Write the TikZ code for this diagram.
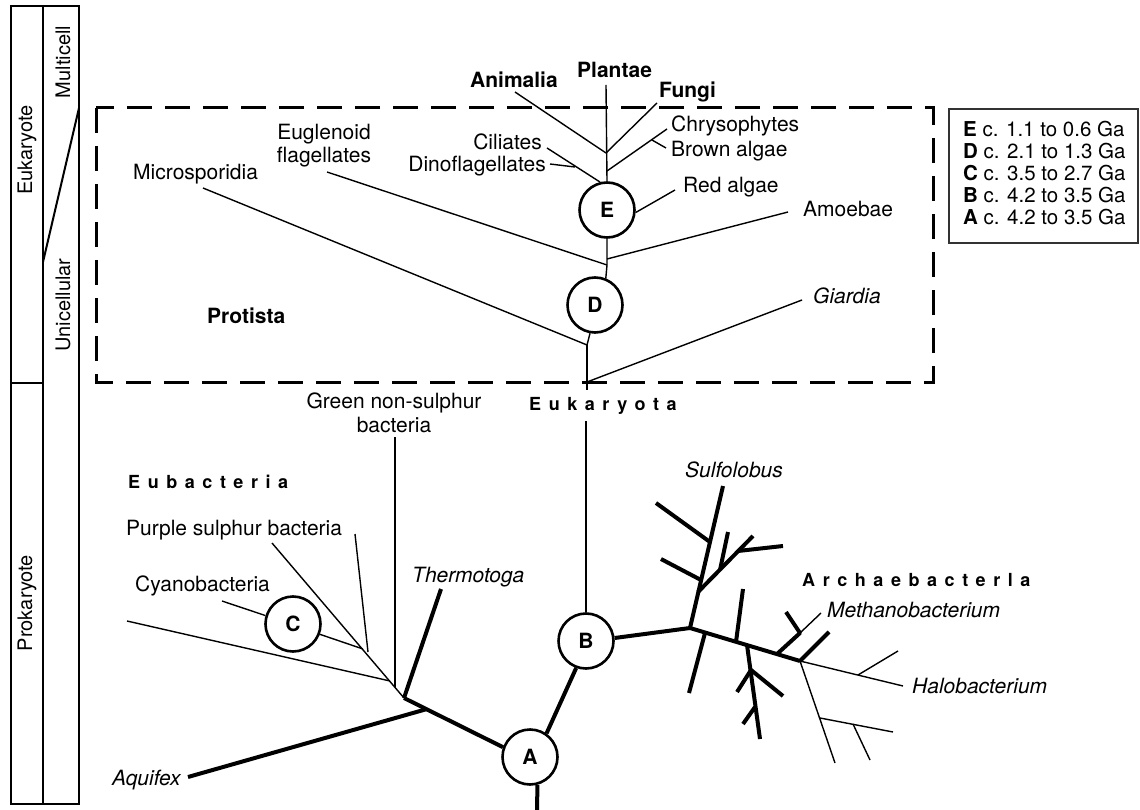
\documentclass[tikz,border=0pt]{standalone}
\usepackage{fontspec}
\setmainfont{TeX Gyre Heros}
\newfontfamily\spacedfont[LetterSpace=42]{TeX Gyre Heros}
\usetikzlibrary{calc}
\begin{document}
\begin{tikzpicture}[x=1pt,y=-1pt,
  lbl/.style={inner sep=0pt, anchor=base west, font=\fontsize{21}{24}\selectfont},
  lblr/.style={lbl, anchor=base east},
  blbl/.style={lbl, font=\fontsize{21}{24}\selectfont\bfseries},
  ilbl/.style={lbl, font=\fontsize{21}{24}\selectfont\itshape},
  ttl/.style={inner sep=0pt, anchor=base west, font=\spacedfont\bfseries\fontsize{18}{20}\selectfont},
  leg/.style={inner sep=0pt, anchor=base west, font=\fontsize{20.5}{22}\selectfont},
  col/.style={inner sep=0pt, rotate=90, font=\fontsize{20}{22}\selectfont},
  circ/.style={circle, draw, line width=2.6pt, minimum size=55pt, inner sep=0pt, fill=white, font=\fontsize{21}{24}\selectfont\bfseries},
  thinb/.style={line width=1.4pt, line join=round},
  thickb/.style={line width=4pt, line join=round},
  frame/.style={line width=2pt},
  dashbox/.style={line width=3pt, dash pattern=on 25pt off 13pt}
]
\useasboundingbox (0,0) rectangle (1140,810);

% ---------- left time column ----------
\draw[frame] (11,6) rectangle (79,804);
\draw[frame] (43,6) -- (43,804);
\draw[frame] (11,383) -- (43,383);
\draw[frame] (43,262) -- (79,108);
\node[col] (eukcol) at (27,150) {Eukaryote};
\node[col] (procol) at (27,603) {Prokaryote};
\node[col] (unicol) at (63,305) {Unicellular};
\node[col] (mulcol) at (63,62) {Multicell};

% ---------- dashed Protista box ----------
\draw[dashbox] (96,108) rectangle (933,382);

% ---------- legend ----------
\draw[line width=1.3pt, black!80] (949,109) rectangle (1138,243);
\node[leg] (legE) at (963,137) {\textbf{E} c. 1.1 to 0.6 Ga};
\node[leg] (legD) at (963,159) {\textbf{D} c. 2.1 to 1.3 Ga};
\node[leg] (legC) at (963,181) {\textbf{C} c. 3.5 to 2.7 Ga};
\node[leg] (legB) at (963,203) {\textbf{B} c. 4.2 to 3.5 Ga};
\node[leg] (legA) at (963,225) {\textbf{A} c. 4.2 to 3.5 Ga};

% ---------- circles ----------
\node[circ] (E) at (607,210) {E};
\node[circ] (D) at (595,305) {D};
\node[circ] (C) at (293,624) {C};
\node[circ] (B) at (586,641) {B};
\node[circ] (A) at (530,757) {A};

% ---------- eukaryote labels ----------
\node[blbl] (animalia) at (470,88) {Animalia};
\node[blbl] (plantae) at (577,78) {Plantae};
\node[blbl] (fungi) at (659,98) {Fungi};
\node[lbl] (chryso) at (671,132) {Chrysophytes};
\node[lbl] (brown) at (671,157) {Brown algae};
\node[lbl] (redalg) at (683,193) {Red algae};
\node[lbl] (amoeb) at (803,217) {Amoebae};
\node[ilbl] (giard) at (813,303) {Giardia};
\node[lblr] (cilia) at (542,150) {Ciliates};
\node[lblr] (dino) at (546,172) {Dinoflagellates};
\node[inner sep=0pt, anchor=base, align=center, font=\fontsize{21}{23}\selectfont] (eugl) at (324,163) {Euglenoid\\flagellates};
\node[lbl] (micro) at (133,180) {Microsporidia};
\node[blbl] (protista) at (207,323) {Protista};
\node[ttl] (eukaryota) at (529,410) {Eukaryota};

% ---------- eukaryote tree ----------
\coordinate (plTop) at (606,85);
\coordinate (jAn) at (606,153);
\coordinate (jCh) at (607,171);
\coordinate (anEnd) at (515,92);
\coordinate (fuEnd) at (657,103);
\coordinate (chEnd) at (667,129);
\coordinate (brA) at (652,140);
\coordinate (brB) at (666,148);
\coordinate (ciEnd) at (547,148);
\coordinate (diA) at (550,164);
\coordinate (diB) at (575,167);
\coordinate (raEnd) at (675,190);
\coordinate (jAm) at (607,259);
\coordinate (amEnd) at (788,212);
\coordinate (jEu) at (607,265);
\coordinate (euEnd) at (327,172);
\coordinate (jMi) at (587,345);
\coordinate (miEnd) at (203,188);
\coordinate (jGi) at (587,382);
\coordinate (giEnd) at (802,300);
\coordinate (gap1) at (587,390);
\coordinate (gap2) at (586,421);

\draw[thinb] (plTop) -- (E.north);
\draw[thinb] (anEnd) -- (jAn);
\draw[thinb] (fuEnd) -- (jAn);
\draw[thinb] (chEnd) -- (jCh);
\draw[thinb] (brA) -- (brB);
\draw[thinb] (ciEnd) -- (E.104);
\draw[thinb] (diA) -- (diB);
\draw[thinb] (E.-5) -- (raEnd);
\draw[thinb] (E.south) -- (jEu) -- (D.68);
\draw[thinb] (euEnd) -- (jEu);
\draw[thinb] (amEnd) -- (jAm);
\draw[thinb] (D.-100) -- (jMi);
\draw[thinb] (miEnd) -- (jMi);
\draw[thinb] (jMi) -- (jGi) -- (gap1);
\draw[thinb] (giEnd) -- (jGi);
\draw[thinb] (gap2) -- (B.north);

% ---------- eubacteria ----------
\node[ttl] (eubact) at (128,488) {Eubacteria};
\node[inner sep=0pt, anchor=base, align=center, font=\fontsize{21}{24}\selectfont] (green) at (394,432) {Green non-sulphur\\bacteria};
\node[lbl] (purple) at (126,535) {Purple sulphur bacteria};
\node[lbl] (cyano) at (135,591) {Cyanobacteria};
\node[ilbl] (thermo) at (412,582) {Thermotoga};
\node[ilbl] (aquif) at (112,785) {Aquifex};

\coordinate (jEub) at (404,698);
\coordinate (jAq) at (427,709);
\coordinate (aqEnd) at (188,777);
\coordinate (thEnd) at (441,589);
\coordinate (farL) at (127,621);
\coordinate (jFar) at (390,681);
\coordinate (puEnd) at (272,543);
\coordinate (pu2A) at (355,534);
\coordinate (pu2B) at (368,652);
\coordinate (grTop) at (395,437);
\coordinate (grBot) at (395,687);
\coordinate (jCy) at (363,649);
\coordinate (cyEnd) at (222,601);
\coordinate (aBot) at (537,810);

\draw[thickb] (A.160) -- (jEub);
\draw[thickb] (aqEnd) -- (jAq);
\draw[thickb] (jEub) -- (thEnd);
\draw[thickb] (A.55) -- (B.-110);
\draw[thickb] (A.-75) -- (aBot);
\draw[thinb] (farL) -- (jFar);
\draw[thinb] (jEub) -- (puEnd);
\draw[thinb] (pu2A) -- (pu2B);
\draw[thinb] (grTop) -- (grBot);
\draw[thinb] (C.-21) -- (jCy);
\draw[thinb] (C.163) -- (cyEnd);

% ---------- archaebacteria ----------
\node[ttl] (archae) at (802,586) {Archaebacterla};
\node[ilbl] (sulfo) at (685,477) {Sulfolobus};
\node[ilbl] (metha) at (827,617) {Methanobacterium};
\node[ilbl] (halo) at (912,693) {Halobacterium};

\coordinate (j2) at (690,628);
\coordinate (suEnd) at (723,486);
\coordinate (s1) at (710,542);
\coordinate (s1e) at (656,503);
\coordinate (s2) at (701,580);
\coordinate (s2e) at (661,559);
\coordinate (s3) at (698,592);
\coordinate (s3e) at (753,536);
\coordinate (s3a) at (738,551);
\coordinate (s3ae) at (783,546);
\coordinate (s3b) at (720,570);
\coordinate (s3be) at (728,532);
\coordinate (j3) at (800,661);
\coordinate (t1) at (705,633);
\coordinate (t1e) at (689,693);
\coordinate (t2) at (736,642);
\coordinate (t2e) at (743,589);
\coordinate (t3) at (747,645);
\coordinate (t3e) at (760,739);
\coordinate (t3a) at (751,670);
\coordinate (t3ae) at (783,696);
\coordinate (t3be) at (737,692);
\coordinate (t3c) at (755,707);
\coordinate (t3ce) at (743,724);
\coordinate (m0) at (777,654);
\coordinate (m1) at (800,633);
\coordinate (m2) at (786,612);
\coordinate (mLab) at (821,613);
\coordinate (j3e) at (829,632);
\coordinate (haEnd) at (903,686);
\coordinate (h1) at (858,675);
\coordinate (h1e) at (898,651);
\coordinate (lowEnd) at (835,763);
\coordinate (l1) at (820,718);
\coordinate (l1e) at (893,732);
\coordinate (l2) at (853,724);
\coordinate (l2e) at (870,760);

\draw[thickb] (B.6) -- (j2);
\draw[thickb] (j2) -- (suEnd);
\draw[thickb] (s1) -- (s1e);
\draw[thickb] (s2) -- (s2e);
\draw[thickb] (s3) -- (s3e);
\draw[thickb] (s3a) -- (s3ae);
\draw[thickb] (s3b) -- (s3be);
\draw[thickb] (j2) -- (j3);
\draw[thickb] (t1) -- (t1e);
\draw[thickb] (t2) -- (t2e);
\draw[thickb] (t3) -- (t3e);
\draw[thickb] (t3a) -- (t3ae);
\draw[thickb] (t3a) -- (t3be);
\draw[thickb] (t3c) -- (t3ce);
\draw[thickb] (m0) -- (m1) -- (m2);
\draw[thinb] (m1) -- (mLab);
\draw[thickb] (j3) -- (j3e);
\draw[thinb] (j3) -- (haEnd);
\draw[thinb] (h1) -- (h1e);
\draw[thinb] (j3) -- (lowEnd);
\draw[thinb] (l1) -- (l1e);
\draw[thinb] (l2) -- (l2e);
\end{tikzpicture}
\end{document}
